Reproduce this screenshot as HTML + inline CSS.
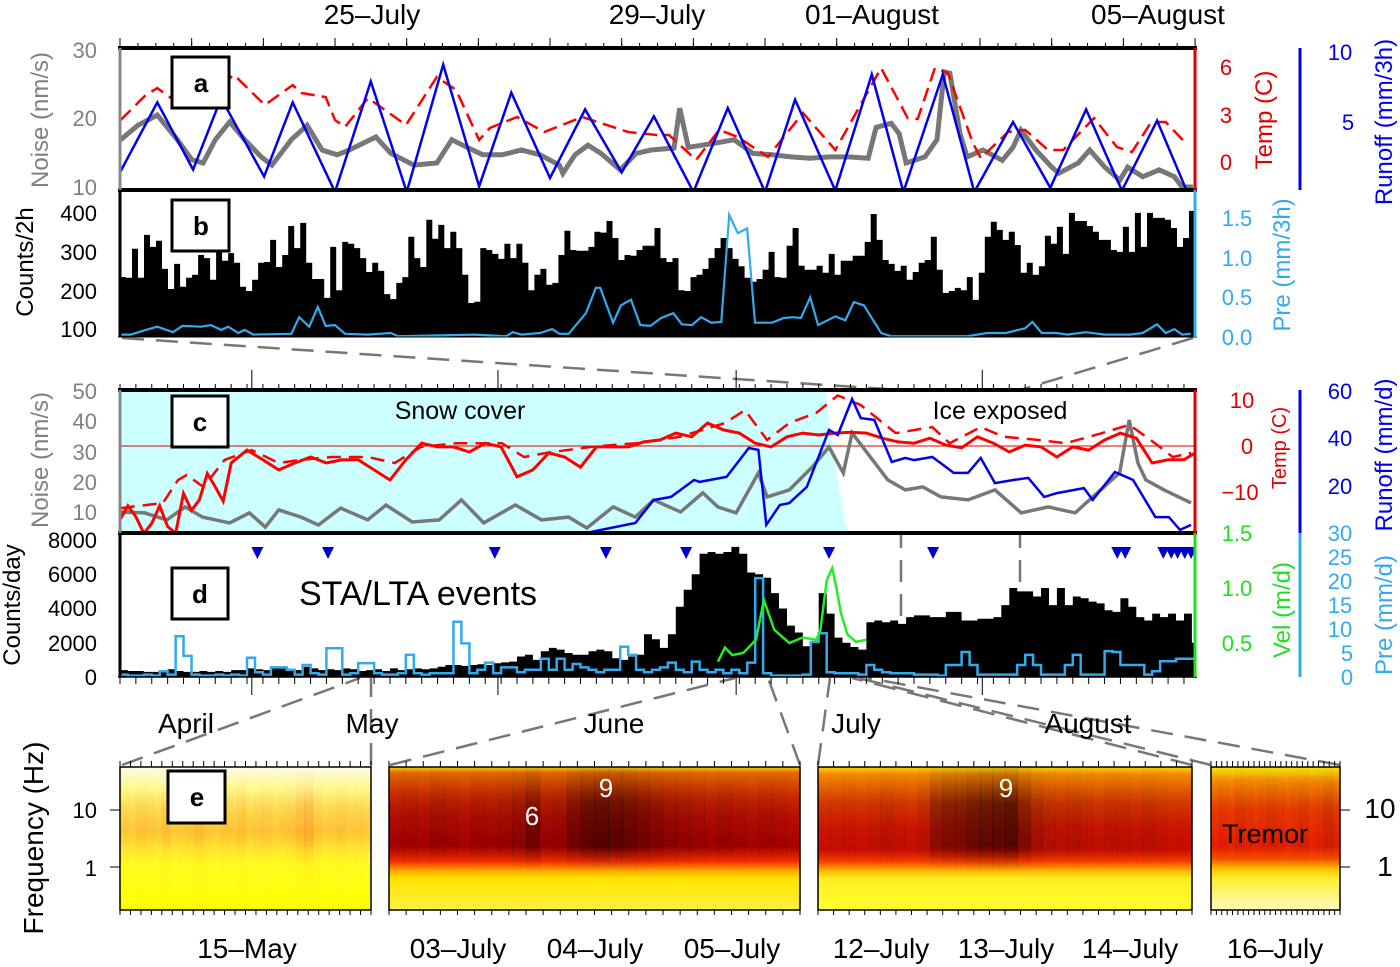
<!DOCTYPE html>
<html><head><meta charset="utf-8"><style>
html,body{margin:0;padding:0;background:#fff;}
svg{display:block;font-family:"Liberation Sans",sans-serif;}
</style></head><body>
<svg id="fig" width="1400" height="967" viewBox="0 0 1400 967" xmlns="http://www.w3.org/2000/svg">
<defs>
<linearGradient id="g-e1" x1="0" y1="0" x2="0" y2="1"><stop offset="0" stop-color="#fffbe8"/><stop offset="0.15" stop-color="#ffff90"/><stop offset="0.3" stop-color="#ffe050"/><stop offset="0.45" stop-color="#ffd038"/><stop offset="0.58" stop-color="#fff030"/><stop offset="0.68" stop-color="#ffff20"/><stop offset="1" stop-color="#ffff00"/></linearGradient>
<linearGradient id="g-e2" x1="0" y1="0" x2="0" y2="1"><stop offset="0" stop-color="#ffdd00"/><stop offset="0.04" stop-color="#f07000"/><stop offset="0.2" stop-color="#e83000"/><stop offset="0.35" stop-color="#d81000"/><stop offset="0.55" stop-color="#c80000"/><stop offset="0.66" stop-color="#ff3000"/><stop offset="0.72" stop-color="#ffa000"/><stop offset="0.78" stop-color="#ffe400"/><stop offset="1" stop-color="#fff040"/></linearGradient>
<linearGradient id="g-e3" x1="0" y1="0" x2="0" y2="1"><stop offset="0" stop-color="#ffe000"/><stop offset="0.05" stop-color="#ff9000"/><stop offset="0.25" stop-color="#f04000"/><stop offset="0.42" stop-color="#e81800"/><stop offset="0.58" stop-color="#e01000"/><stop offset="0.66" stop-color="#ff4000"/><stop offset="0.72" stop-color="#ffb000"/><stop offset="0.78" stop-color="#ffee20"/><stop offset="1" stop-color="#ffff30"/></linearGradient>
<linearGradient id="g-e4" x1="0" y1="0" x2="0" y2="1"><stop offset="0" stop-color="#ffee00"/><stop offset="0.1" stop-color="#ff9000"/><stop offset="0.3" stop-color="#ff4000"/><stop offset="0.55" stop-color="#ff2000"/><stop offset="0.64" stop-color="#ff5000"/><stop offset="0.71" stop-color="#ffc000"/><stop offset="0.78" stop-color="#ffee30"/><stop offset="1" stop-color="#fffbc0"/></linearGradient>
<linearGradient id="g-dark" x1="0" y1="0" x2="0" y2="1"><stop offset="0" stop-color="#000" stop-opacity="0.15"/><stop offset="0.25" stop-color="#000" stop-opacity="0.75"/><stop offset="0.55" stop-color="#000" stop-opacity="0.8"/><stop offset="0.66" stop-color="#000" stop-opacity="0.2"/><stop offset="0.74" stop-color="#000" stop-opacity="0"/></linearGradient>
<linearGradient id="g-red" x1="0" y1="0" x2="0" y2="1"><stop offset="0" stop-color="#e00000" stop-opacity="0"/><stop offset="0.25" stop-color="#e00000" stop-opacity="0.4"/><stop offset="0.5" stop-color="#e00000" stop-opacity="0.5"/><stop offset="0.7" stop-color="#e00000" stop-opacity="0.1"/><stop offset="1" stop-color="#e00000" stop-opacity="0"/></linearGradient>
<clipPath id="clip-a"><rect x="120" y="48" width="1075" height="142"/></clipPath>
<clipPath id="clip-b"><rect x="120" y="190" width="1075" height="147"/></clipPath>
<clipPath id="clip-c"><rect x="120" y="390" width="1075" height="143"/></clipPath>
<clipPath id="clip-d"><rect x="120" y="533" width="1075" height="144"/></clipPath>
</defs>

<g stroke="#777" stroke-width="2.5" stroke-dasharray="22,12" fill="none">
<line x1="122" y1="338" x2="901" y2="390"/><line x1="1193" y1="338" x2="1020" y2="390"/>
<line x1="901" y1="390" x2="901" y2="677"/><line x1="1020" y1="390" x2="1020" y2="677"/>
<line x1="122" y1="765" x2="360" y2="678"/><line x1="371" y1="765" x2="371" y2="678"/>
<line x1="390" y1="765" x2="735" y2="678"/><line x1="800" y1="765" x2="768" y2="678"/>
<line x1="818" y1="765" x2="830" y2="678"/><line x1="1192" y1="765" x2="852" y2="678"/>
<line x1="1211" y1="765" x2="858" y2="678"/><line x1="1340" y1="765" x2="868" y2="678"/>
</g>

<rect x="120" y="390" width="1075" height="143" fill="#fff"/>
<path d="M120 390 L826 390 Q832 460 848 533 L120 533 Z" fill="#ccffff"/>
<line x1="120" y1="446" x2="1195" y2="446" stroke="#e00000" stroke-width="1"/>

<g id="marks-a" clip-path="url(#clip-a)"></g>
<g id="marks-b" clip-path="url(#clip-b)"></g>
<g id="marks-c" clip-path="url(#clip-c)"></g>
<g id="marks-d" clip-path="url(#clip-d)"></g>
<g id="marks-e"></g>
<g id="ticks" stroke="#000" stroke-width="1"></g>

<g fill="none">
<line x1="118" y1="48" x2="1197" y2="48" stroke="#000" stroke-width="4"/>
<line x1="118" y1="190" x2="1197" y2="190" stroke="#000" stroke-width="4"/>
<line x1="118" y1="337" x2="1197" y2="337" stroke="#000" stroke-width="1"/>
<line x1="120" y1="48" x2="120" y2="190" stroke="#888" stroke-width="3"/>
<line x1="120" y1="190" x2="120" y2="337" stroke="#000" stroke-width="3"/>
<line x1="1195" y1="48" x2="1195" y2="190" stroke="#e00000" stroke-width="3"/>
<line x1="1195" y1="190" x2="1195" y2="337" stroke="#33aaee" stroke-width="3"/>
<line x1="1300" y1="48" x2="1300" y2="190" stroke="#0000ee" stroke-width="3"/>
<line x1="118" y1="390" x2="1197" y2="390" stroke="#000" stroke-width="4"/>
<line x1="118" y1="533" x2="1197" y2="533" stroke="#000" stroke-width="4"/>
<line x1="118" y1="677" x2="1197" y2="677" stroke="#000" stroke-width="1.5"/>
<line x1="120" y1="390" x2="120" y2="533" stroke="#888" stroke-width="3"/>
<line x1="120" y1="533" x2="120" y2="677" stroke="#000" stroke-width="3"/>
<line x1="1195" y1="390" x2="1195" y2="533" stroke="#e00000" stroke-width="3"/>
<line x1="1195" y1="533" x2="1195" y2="677" stroke="#22dd22" stroke-width="3"/>
<line x1="1300" y1="390" x2="1300" y2="533" stroke="#0000ee" stroke-width="3"/>
<line x1="1300" y1="533" x2="1300" y2="677" stroke="#33aaee" stroke-width="3"/>
</g>

<g font-weight="bold" font-size="26" text-anchor="middle">
<rect x="172" y="57" width="57" height="51" fill="#fff" stroke="#000" stroke-width="3"/><text x="201" y="92">a</text>
<rect x="172" y="200" width="57" height="51" fill="#fff" stroke="#000" stroke-width="3"/><text x="201" y="235">b</text>
<rect x="172" y="396" width="56" height="51" fill="#fff" stroke="#000" stroke-width="3"/><text x="200" y="431">c</text>
<rect x="172" y="568" width="56" height="51" fill="#fff" stroke="#000" stroke-width="3"/><text x="200" y="603">d</text>
<rect x="168" y="771" width="57" height="52" fill="#fff" stroke="#000" stroke-width="3"/><text x="197" y="806">e</text>
</g>

<text x="460" y="419" font-size="25" text-anchor="middle">Snow cover</text>
<text x="1000" y="419" font-size="25" text-anchor="middle">Ice exposed</text>
<text x="418" y="605" font-size="34" text-anchor="middle">STA/LTA events</text>
<text x="532" y="825" font-size="26" fill="#fff" text-anchor="middle">6</text>
<text x="606" y="797" font-size="26" fill="#fff" text-anchor="middle">9</text>
<text x="1006" y="797" font-size="26" fill="#fff" text-anchor="middle">9</text>
<text x="1265" y="843" font-size="27" text-anchor="middle">Tremor</text>

<g font-size="28" text-anchor="middle">
<text x="372" y="24">25–July</text><text x="657" y="24">29–July</text><text x="872" y="24">01–August</text><text x="1158" y="24">05–August</text>
</g>
<g font-size="28" text-anchor="middle">
<text x="186" y="733">April</text><text x="372" y="733">May</text><text x="614" y="733">June</text><text x="856" y="733">July</text><text x="1088" y="733">August</text>
</g>
<g font-size="28" text-anchor="middle">
<text x="247" y="958">15–May</text><text x="458" y="958">03–July</text><text x="595" y="958">04–July</text><text x="732" y="958">05–July</text>
<text x="881" y="958">12–July</text><text x="1006" y="958">13–July</text><text x="1130" y="958">14–July</text><text x="1275" y="958">16–July</text>
</g>

<g font-size="22" text-anchor="end">
<g fill="#808080"><text x="97" y="58">30</text><text x="97" y="126">20</text><text x="97" y="195">10</text></g>
<text x="97" y="221">400</text><text x="97" y="260">300</text><text x="97" y="299">200</text><text x="97" y="337">100</text>
<g fill="#808080"><text x="97" y="399">50</text><text x="97" y="429">40</text><text x="97" y="460">30</text><text x="97" y="490">20</text><text x="97" y="520">10</text></g>
<text x="97" y="548">8000</text><text x="97" y="582">6000</text><text x="97" y="616">4000</text><text x="97" y="651">2000</text><text x="97" y="685">0</text>
<text x="97" y="818">10</text><text x="97" y="876">1</text>
</g>
<g font-size="24" text-anchor="middle">
<text transform="translate(48,120) rotate(-90)" fill="#808080">Noise (nm/s)</text>
<text transform="translate(33,262) rotate(-90)">Counts/2h</text>
<text transform="translate(48,460) rotate(-90)" fill="#808080">Noise (nm/s)</text>
<text transform="translate(20,605) rotate(-90)">Counts/day</text>
<text transform="translate(43,838) rotate(-90)" font-size="28">Frequency (Hz)</text>
</g>

<g font-size="22">
<g fill="#e00000" text-anchor="middle"><text x="1226" y="75">6</text><text x="1226" y="123">3</text><text x="1226" y="170">0</text></g>
<g fill="#0000ee" text-anchor="middle"><text x="1340" y="60">10</text><text x="1348" y="130">5</text></g>
<g fill="#33aaee" text-anchor="middle"><text x="1237" y="226">1.5</text><text x="1237" y="266">1.0</text><text x="1237" y="305">0.5</text><text x="1237" y="345">0.0</text></g>
<g fill="#e00000" text-anchor="middle"><text x="1242" y="408">10</text><text x="1247" y="454">0</text><text x="1240" y="500">−10</text></g>
<g fill="#0000ee" text-anchor="middle"><text x="1340" y="399">60</text><text x="1340" y="446">40</text><text x="1340" y="494">20</text></g>
<g fill="#22dd22" text-anchor="middle"><text x="1237" y="541">1.5</text><text x="1237" y="596">1.0</text><text x="1237" y="651">0.5</text></g>
<g fill="#33aaee" text-anchor="middle"><text x="1340" y="541">30</text><text x="1340" y="565">25</text><text x="1340" y="589">20</text><text x="1340" y="613">15</text><text x="1340" y="637">10</text><text x="1347" y="661">5</text><text x="1347" y="685">0</text></g>
<g text-anchor="middle" font-size="28"><text x="1380" y="818">10</text><text x="1385" y="876">1</text></g>
</g>
<g font-size="24" text-anchor="middle">
<text transform="translate(1272,120) rotate(-90)" fill="#e00000">Temp (C)</text>
<text transform="translate(1392,122) rotate(-90)" fill="#0000ee">Runoff (mm/3h)</text>
<text transform="translate(1290,265) rotate(-90)" fill="#33aaee">Pre (mm/3h)</text>
<text transform="translate(1286,448) rotate(-90)" fill="#e00000" font-size="20">Temp (C)</text>
<text transform="translate(1392,455) rotate(-90)" fill="#0000ee">Runoff (mm/d)</text>
<text transform="translate(1290,610) rotate(-90)" fill="#22dd22">Vel (m/d)</text>
<text transform="translate(1392,615) rotate(-90)" fill="#33aaee">Pre (mm/d)</text>
</g>

<script>
// ---------- Panel a data (days since 21 July) ----------
const runoffADays=[0,0.52,1.02,1.41,2.01,2.41,3.0,3.5,4.0,4.51,5.01,5.46,6.0,6.49,7.0,7.45,8.0,8.48,9.0,9.42,9.98,10.49,10.93,11.48,11.92,12.46,12.98,13.48,13.98,14.47,14.89,14.97];
const runoffAVals=[1.4,6.4,1.6,6.7,1.1,6.4,0,7.9,0,9.1,0.4,7.1,1.0,5.9,1.4,5.4,0,6.0,0,6.6,0.1,8.4,0,8.4,0,5.0,0.3,5.9,0.1,5.1,0,0];
const tempADays=[0.01,0.36,0.52,0.71,1.0,1.59,2.02,2.41,2.53,2.87,3.0,3.14,3.46,3.99,4.42,4.69,5.01,5.16,5.54,5.92,6.45,7.09,7.49,7.66,8.04,8.36,8.62,9.04,9.53,9.98,10.62,10.99,11.13,11.37,11.55,11.9,12.01,12.39,12.63,12.95,13.16,13.59,13.91,14.12,14.39,14.59,14.87];
const tempAVals=[2.66,4.24,4.68,4.05,3.42,5.51,3.61,4.87,4.37,4.11,2.66,2.22,4.05,2.34,5.38,4.56,1.39,2.15,2.85,1.9,2.85,1.9,1.71,1.71,0.13,2.03,1.58,0.32,3.1,0.76,5.95,2.78,2.72,5.95,5.63,1.2,0.25,1.9,2.03,0.76,0.76,2.78,0.95,0.63,2.53,2.53,1.2];
const noiseADays=[0.01,0.25,0.52,0.8,1.0,1.16,1.33,1.53,1.74,1.97,2.12,2.39,2.61,2.82,3.03,3.2,3.57,3.78,4.1,4.42,4.63,4.84,5.06,5.33,5.6,5.86,6.13,6.18,6.35,6.53,6.71,6.98,7.2,7.41,7.73,7.81,7.93,8.3,8.57,8.83,9.1,9.36,9.63,9.91,10.17,10.44,10.55,10.76,10.87,10.97,11.23,11.4,11.5,11.58,11.72,11.82,12.04,12.31,12.46,12.57,12.78,13.0,13.1,13.37,13.53,13.74,13.95,14.06,14.27,14.5,14.71,14.82,14.97];
const noiseAVals=[16.9,19.0,20.5,16.9,14.0,13.5,16.9,19.5,16.9,14.4,13.2,16.9,19.0,15.4,14.7,15.4,17.3,14.9,13.2,13.5,16.9,15.8,14.7,14.7,15.4,14.7,13.2,12.0,14.7,16.1,14.9,12.5,14.9,15.4,15.7,21.5,15.8,16.4,16.9,14.9,14.7,14.4,14.2,14.4,14.4,14.2,18.7,19.3,17.8,13.5,14.4,16.9,26.8,26.6,17.8,14.4,15.4,13.9,15.8,18.3,15.4,12.9,12.0,13.5,15.4,12.9,11.0,12.9,11.5,12.5,11.5,10.0,10.0];
// ---------- Panel b data ----------
const countsB=[234,232,307,232,343,312,328,255,203,268,209,232,240,291,283,227,299,276,296,271,209,198,227,271,273,330,260,291,366,309,374,271,229,229,180,312,200,325,320,309,283,247,271,250,190,177,219,234,338,283,260,382,333,369,309,351,309,240,167,170,309,304,294,281,320,283,320,271,200,240,255,214,219,291,354,304,302,302,312,351,
349,379,335,278,291,289,304,315,315,361,283,273,283,200,198,234,240,255,283,309,335,309,281,262,232,222,229,253,299,234,232,315,361,263,253,253,263,245,294,240,276,276,289,289,325,397,330,278,268,250,263,227,247,271,278,338,253,193,198,206,200,234,175,245,338,377,356,330,351,317,245,271,240,262,341,320,364,294,400,379,379,366,351,330,330,304,299,364,299,400,312,400,387,387,382,361,312,335,405];
const preBDays=[0.01,0.15,0.36,0.52,0.74,0.87,1.13,1.27,1.41,1.51,1.65,1.74,1.86,2.39,2.5,2.64,2.76,2.87,3.0,3.14,3.46,3.78,3.88,4.95,5.39,5.48,5.6,5.86,6.03,6.13,6.26,6.5,6.64,6.7,6.88,6.99,7.13,7.26,7.4,7.55,7.72,7.84,7.98,8.11,8.25,8.39,8.5,8.62,8.75,8.86,9.1,9.26,9.39,9.5,9.63,9.74,9.98,10.12,10.24,10.38,10.62,10.76,11.82,12.1,12.36,12.63,12.73,12.86,13.07,13.21,13.48,13.74,14.09,14.27,14.47,14.59,14.71,14.82,14.94];
const preBVals=[0.03,0.03,0.09,0.13,0.06,0.14,0.13,0.15,0.09,0.13,0.05,0.09,0.03,0.04,0.25,0.13,0.38,0.14,0.15,0.04,0.03,0.05,0.01,0.03,0.01,0.06,0.03,0.05,0.10,0.04,0.04,0.30,0.62,0.62,0.18,0.40,0.47,0.15,0.14,0.24,0.30,0.16,0.15,0.25,0.18,0.19,1.54,1.31,1.37,0.18,0.18,0.24,0.25,0.24,0.50,0.15,0.26,0.21,0.44,0.40,0.05,0.01,0.01,0.05,0.05,0.11,0.19,0.05,0.05,0.03,0.06,0.03,0.03,0.05,0.16,0.05,0.10,0.03,0.04];
// ---------- Panel c data (days since 14 April) ----------
const tempCDays=[0,1,2,3,4,5,6,7,8,9,10,11,12,13,14,16,18,20,22,24,26,28,30,32,34,36,38,40,42,44,46,48,50,52,54,56,58,60,62,64,66,68,70,72,74,76,78,80,82,84,86,88,90,92,94,96,98,100,102,104,106,108,110,112,114,116,118,120,122,124,126,128,130,132,134,135.4];
const tempCVals=[-16,-13,-15.4,-19,-16.8,-13,-17.5,-19,-10.3,-14,-11.7,-6,-8.9,-12,-3.7,-0.9,-3,-5.2,-3.7,-2.4,-3.7,-3,-3,-5.2,-7.4,-3,0.6,-0.2,-0.2,-1.3,0.6,-0.2,-6.7,-5.2,-1.5,-2.4,-4.6,-0.2,-0.2,-0.2,0.9,1.3,2.8,2,5,3.5,2.8,0.6,-0.2,2,2.8,2.4,2.8,3,2.8,1.7,0.9,0.6,1.7,0.2,-0.4,2,0.6,-1.3,0.2,-0.2,-2.4,-0.2,-0.9,1.3,2.8,1.7,-3.7,-3,-3,-1.5];
const tempCDashDays=[0.1,5.4,7.3,8.4,10.5,13.2,16.6,20.0,22.8,26.7,31.2,34.6,37.9,42.4,48.1,50.9,53.7,59.3,65.0,70.5,76.2,78.7,81.5,84.3,87.7,90.4,93.3,95.6,97.7,102.3,104.5,108.4,111.3,115.7,119.1,123.7,127.1,129.8,132.6,134.9];
const tempCDashVals=[-13.5,-12.4,-7.4,-6.3,-8.9,-3,-0.9,-3.7,-3,-2.4,-2.4,-3.7,-0.2,0.6,0.6,-2.4,-1.5,-0.2,0.6,2,5,7.8,1.3,5,7.2,11,8.9,5.7,2.8,4.1,0.6,4.1,2,1.3,0.6,2.8,4.6,1.3,-2.4,-1.5];
const noiseCDays=[0.1,3.1,5.9,8.2,10.4,13.8,16.3,18.3,20.0,22.8,25.0,27.8,31.2,33.5,36.8,40.2,43.0,45.8,49.8,53.1,56.5,58.8,62.1,64.9,67.2,70.6,73.4,75.3,77.6,80.4,81.5,84.3,87.2,89.3,91.1,92.2,94.5,96.7,98.9,101.1,103.4,106.8,110.2,113.5,116.9,120.3,122.5,125.9,127.1,128.2,129.2,131.5,134.9];
const noiseCVals=[10,9.7,7.4,11.7,8.3,6.4,9.7,5,10.7,8.3,5.7,11.3,7.4,12.3,6.7,7.4,14,6.4,12.3,7.4,8.3,4.7,11.7,8.3,14,10,16.3,11.7,9.7,22.9,15,17.3,24.9,31.5,22.9,36.1,28.2,20.6,17.3,18.3,15,14,17.3,9.7,11.7,9.7,15,22.9,40.4,26.2,20.6,17.3,13];
const runoffCDays=[59.3,64.9,67.2,69.4,72.3,73.0,76.4,79.2,80.4,81.4,83.1,84.3,86.5,89.3,90.4,92.2,93.3,95.0,97.2,98.9,100.0,102.3,103.7,105.0,106.8,108.4,110.2,112.5,114.4,116.4,118.0,121.4,122.5,125.3,127.6,130.4,132.1,133.5,134.9];
const runoffCVals=[0.4,4.2,13.9,15.2,22.3,21.5,23.6,35.8,35,3.4,11.8,12.6,19.4,43.4,41.3,56.4,48.4,47.6,29.9,31.6,30.7,32,28.6,25.3,25.3,31.6,21,22.3,23.2,15.2,16.8,18.9,13.9,25.7,22.3,6.7,6.7,1.3,3.4];
// ---------- Panel d data ----------
const countsD=[400,350,350,300,300,350,450,350,300,300,350,300,350,300,400,400,500,450,400,500,
500,450,400,600,500,400,450,400,500,450,350,400,450,350,500,400,450,500,450,500,
600,700,700,650,700,750,700,800,850,900,1200,1300,1000,1500,1700,1600,1400,1300,
1300,1500,1600,1500,1100,1000,1200,1300,2500,2200,1700,2500,
4100,5100,6000,7200,7300,7200,7300,7600,7200,6100,
6000,5800,4900,4000,3000,2600,1800,2000,4900,3700,2300,2000,1750,1600,
3200,3300,3200,3300,3100,3500,3600,3600,3500,3500,3800,3800,3300,3300,3400,3400,3500,
4200,5200,5000,5000,4700,5200,4200,5200,4200,4700,4600,4400,4300,3900,3800,4600,4100,3500,3300,3700,3500,3700,3300,3700,2000];
const preD=[0.5,0.3,0.3,0.5,0.3,1.2,0.5,8.5,4.4,0.5,0.3,0.3,0.5,0.3,0.5,0.3,4,1,0.5,2,2,1.5,0.5,2.5,0.8,0.5,6,6,0.5,0.8,2.9,2.9,0.8,0.5,0.5,0.8,4.6,0.8,0.5,0.8,0.8,0.8,11.5,7,0.8,1.5,3,0.8,2,2,1,1.5,1.5,3.8,1.5,3.8,1.5,2.7,2,1.5,1,1.5,1.5,6.3,4.6,1.5,1,1.5,2,3,1.5,1,3.2,1.5,1,1.5,0.8,1.5,0.8,3,20.6,0.8,0.3,0.3,0.3,0.3,0.5,7.3,9.1,1,0.8,0.8,0.8,0.5,2.5,1.5,1,0.8,0.8,0.8,0.5,0.5,0.5,0.3,2.5,2.5,5.2,2.5,0.5,0.5,0.5,0.5,0.5,2.5,4.6,2.5,0.5,0.5,0.5,2.5,4.6,0.5,0.5,0.5,5.4,5.2,2.5,2.5,2.5,0.5,1.2,3.3,3.3,3.8,3.8,3.8];
const velDays=[75.3,76.2,77.1,78.5,80.1,81.1,82.4,84.3,86.0,87.7,88.2,89.0,89.7,90.2,90.8,91.6,92.7,94.0];
const velVals=[0.33,0.46,0.39,0.41,0.53,0.89,0.62,0.5,0.55,0.53,0.61,1.07,1.18,1.01,0.77,0.58,0.51,0.53];
const eventDays=[17.3,26.2,47.2,61.2,71.3,89.3,102.4,125.6,126.6,131.4,132.4,133.2,134.1,134.9];
// ---------- Panel e data (column intensities) ----------
const specE1=[0.15,0.1,0.2,0.15,0.1,0.25,0.1,0.15,0.2,0.3,0.15,0.1,0.2,0.15,0.25,0.1,0.15,0.2,0.1,0.15,0.2,0.35,0.45,0.2,0.1,0.15,0.2,0.1,0.15,0.1];
const specE2=[0.3,0.35,0.3,0.4,0.35,0.3,0.4,0.35,0.4,0.5,0.7,0.4,0.45,0.7,0.85,0.9,0.85,0.8,0.7,0.6,0.5,0.45,0.4,0.35,0.4,0.35,0.3,0.35,0.3,0.25];
const specE3=[0.2,0.2,0.25,0.2,0.25,0.3,0.25,0.2,0.3,0.6,0.7,0.75,0.85,0.9,0.95,1.0,0.7,0.45,0.35,0.3,0.35,0.3,0.25,0.3,0.3,0.25,0.3,0.25,0.2,0.2];
const specE4=[0.15,0.2,0.15,0.25,0.2,0.15,0.2,0.25,0.2,0.15,0.2,0.25,0.15,0.2,0.3,0.2];

// ---------- axis functions ----------
const xA=d=>120+d*71.67;
const yNoiseA=v=>187-(v-10)*6.85, yTempA=v=>162-v*15.8, yRunA=v=>192-v*14;
const yCntB=v=>337-(v-79)*0.3867, yPreB=v=>337-v*79.3;
const xC=d=>120+d*7.94;
const yNoiseC=v=>512-(v-10)*3.025, yTempC=v=>446-v*4.6, yRunC=v=>533-v*2.375;
const yCntD=v=>677-v*0.017125, yVel=v=>698-v*110, yPreD=v=>677-v*4.8;

const NS="http://www.w3.org/2000/svg";
function el(tag,parent){const e=document.createElementNS(NS,tag);parent.appendChild(e);return e;}
function pts(ds,vs,fx,fy){return ds.map((d,i)=>fx(d).toFixed(1)+","+fy(vs[i]).toFixed(1)).join(" ");}

const gA=document.getElementById('marks-a');
let p=el('polyline',gA);p.setAttribute('points',pts(noiseADays,noiseAVals,xA,yNoiseA));p.setAttribute('fill','none');p.setAttribute('stroke','#777');p.setAttribute('stroke-width','5');


p=el('polyline',gA);p.setAttribute('points',pts(tempADays,tempAVals,xA,yTempA));p.setAttribute('fill','none');p.setAttribute('stroke','#ff0000');p.setAttribute('stroke-width','2.5');p.setAttribute('stroke-dasharray','14,7');


p=el('polyline',gA);p.setAttribute('points',pts(runoffADays,runoffAVals,xA,yRunA));p.setAttribute('fill','none');p.setAttribute('stroke','#0000ee');p.setAttribute('stroke-width','2.5');



const gB=document.getElementById('marks-b');
const bw=1075/countsB.length;
let dB="M120,337";
countsB.forEach((v,i)=>{const x0=120+i*bw,y=yCntB(v);dB+=" L"+x0.toFixed(1)+","+y.toFixed(1)+" L"+(x0+bw).toFixed(1)+","+y.toFixed(1);});
dB+=" L1195,337 Z";
p=el('path',gB);p.setAttribute('d',dB);p.setAttribute('fill','#000');


p=el('polyline',gB);p.setAttribute('points',pts(preBDays,preBVals,xA,yPreB));p.setAttribute('fill','none');p.setAttribute('stroke','#33aaee');p.setAttribute('stroke-width','2.2');



const gC=document.getElementById('marks-c');
p=el('polyline',gC);p.setAttribute('points',pts(noiseCDays,noiseCVals,xC,yNoiseC));p.setAttribute('fill','none');p.setAttribute('stroke','#777');p.setAttribute('stroke-width','3.5');


p=el('polyline',gC);p.setAttribute('points',pts(tempCDashDays,tempCDashVals,xC,yTempC));p.setAttribute('fill','none');p.setAttribute('stroke','#ff0000');p.setAttribute('stroke-width','2.5');p.setAttribute('stroke-dasharray','14,8');


p=el('polyline',gC);p.setAttribute('points',pts(tempCDays,tempCVals,xC,yTempC));p.setAttribute('fill','none');p.setAttribute('stroke','#ff0000');p.setAttribute('stroke-width','3');


p=el('polyline',gC);p.setAttribute('points',pts(runoffCDays,runoffCVals,xC,yRunC));p.setAttribute('fill','none');p.setAttribute('stroke','#0000ee');p.setAttribute('stroke-width','2.5');



const gD=document.getElementById('marks-d');
const dw=7.94;
let dD="M120,677";
countsD.forEach((v,i)=>{const x0=xC(i),y=yCntD(v);dD+=" L"+x0.toFixed(1)+","+y.toFixed(1)+" L"+(x0+dw).toFixed(1)+","+y.toFixed(1);});
dD+=" L"+xC(countsD.length).toFixed(1)+",677 Z";
p=el('path',gD);p.setAttribute('d',dD);p.setAttribute('fill','#000');


let dP="M120,677";
preD.forEach((v,i)=>{const x0=xC(i),y=yPreD(v);dP+=" L"+x0.toFixed(1)+","+y.toFixed(1)+" L"+(x0+dw).toFixed(1)+","+y.toFixed(1);});
dP+=" L"+xC(preD.length).toFixed(1)+",677";
p=el('path',gD);p.setAttribute('d',dP);p.setAttribute('fill','none');p.setAttribute('stroke','#33aaee');p.setAttribute('stroke-width','2.5');


p=el('polyline',gD);p.setAttribute('points',pts(velDays,velVals,xC,yVel));p.setAttribute('fill','none');p.setAttribute('stroke','#22ee22');p.setAttribute('stroke-width','2.5');


eventDays.forEach(d=>{const x=xC(d);const t=el('polygon',gD);t.setAttribute('points',(x-6)+",547 "+(x+6)+",547 "+x+",559");t.setAttribute('fill','#0000cc');

});

const gE=document.getElementById('marks-e');
const specPanels=[[120,371,'g-e1',specE1,'g-red'],[389,800,'g-e2',specE2,'g-dark'],[818,1192,'g-e3',specE3,'g-dark'],[1211,1340,'g-e4',specE4,'g-dark']];
specPanels.forEach((sp,k)=>{
  const r=el('rect',gE);r.setAttribute('x',sp[0]);r.setAttribute('y',767);r.setAttribute('width',sp[1]-sp[0]);r.setAttribute('height',143);r.setAttribute('fill','url(#'+sp[2]+')');
  
  
  const w=(sp[1]-sp[0])/sp[3].length;
  sp[3].forEach((v,i)=>{const c=el('rect',gE);c.setAttribute('x',(sp[0]+i*w).toFixed(1));c.setAttribute('y',767);c.setAttribute('width',(w+0.5).toFixed(1));c.setAttribute('height',143);c.setAttribute('fill','url(#'+sp[4]+')');c.setAttribute('opacity',(v*0.8).toFixed(2));
    
    });
  const f=el('rect',gE);f.setAttribute('x',sp[0]);f.setAttribute('y',767);f.setAttribute('width',sp[1]-sp[0]);f.setAttribute('height',143);f.setAttribute('fill','none');f.setAttribute('stroke','#000');f.setAttribute('stroke-width','1.5');
  
  
});

const gT=document.getElementById('ticks');
function tick(x1,y1,x2,y2){const l=el('line',gT);l.setAttribute('x1',x1);l.setAttribute('y1',y1);l.setAttribute('x2',x2);l.setAttribute('y2',y2);}
for(let d=0;d<=15;d++){tick(xA(d),48,xA(d),38);}
for(let d=0;d<15;d+=0.25){tick(xA(d),48,xA(d),43);}
for(let d=0;d<=135;d+=2){tick(xC(d),677,xC(d),684);tick(xC(d),390,xC(d),384);}
[16.6,47.6,77.6,108.6].forEach(d=>{tick(xC(d),677,xC(d),695);tick(xC(d),390,xC(d),370);});
specPanels.forEach(sp=>{for(let x=sp[0];x<=sp[1];x+=(sp[1]-sp[0])/24){tick(x,767,x,761);tick(x,910,x,915);}});
[[120,810],[120,867]].forEach(t=>tick(110,t[1],120,t[1]));
[[1340,810],[1340,867]].forEach(t=>tick(1340,t[1],1350,t[1]));
</script>
</svg>
</body></html>
